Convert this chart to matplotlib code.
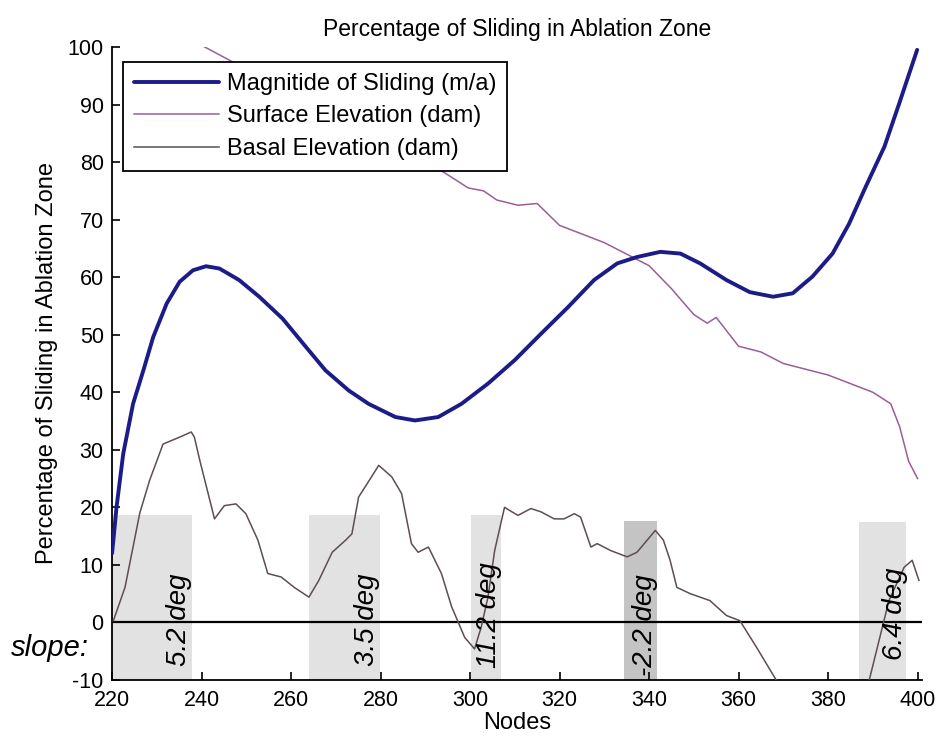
import matplotlib.pyplot as plt
import numpy as np

plt.rcParams['font.family'] = ['Liberation Sans', 'DejaVu Sans']
plt.rcParams['axes.unicode_minus'] = False

# magnitude of sliding (blue)
slide_x = [220, 220.3, 221, 222.5, 224.7, 227, 229.2, 232.2, 235.1, 238.1, 241, 244, 248.4,
           252.9, 258.1, 263.3, 267.7, 272.9, 277.3, 283.3, 287.7, 292.9, 298.1, 304, 310,
           315.9, 321.9, 327.7, 332.9, 337.3, 342.5, 347, 351.4, 357.3, 362.5, 367.7, 372.1,
           376.5, 381, 384.7, 388.4, 392.6, 395.9, 399.9]
slide_y = [12, 14.3, 20, 29.3, 38, 43.8, 49.6, 55.4, 59.2, 61.2, 61.9, 61.5, 59.5,
           56.6, 52.8, 47.9, 43.8, 40.3, 38, 35.7, 35.1, 35.7, 38, 41.5, 45.6,
           50.2, 54.8, 59.5, 62.4, 63.5, 64.4, 64.1, 62.4, 59.5, 57.4, 56.6, 57.2,
           60.1, 64.1, 69.3, 75.7, 82.7, 90.2, 99.5]

# surface elevation (magenta)
surf_x = [240.7, 260, 280, 294.4, 299.6, 303, 306, 310.7, 315, 320, 325, 330, 335, 340,
          345, 350, 353, 355, 357, 360, 365, 370, 375, 380, 385, 390, 394, 396, 398, 400]
surf_y = [100, 92, 84, 78.1, 75.5, 75, 73.4, 72.5, 72.8, 69, 67.5, 66, 64, 62,
          58, 53.5, 52, 53, 51, 48, 47, 45, 44, 43, 41.5, 40, 38, 34, 28, 25]

# basal elevation
bed_x = [220.3, 222.9, 226.2, 228.4, 231.4, 235.1, 237.7, 238.4, 239.6, 242.9, 245.1, 247.7,
         249.9, 252.6, 254.8, 257.8, 260.7, 264, 266.2, 269.2, 272.2, 273.6, 275.1, 277,
         279.6, 282.5, 284.7, 286.9, 288.4, 290.7, 293.6, 295.9, 298.8, 301, 302.5, 304,
         305.5, 307.7, 310.7, 313.6, 315.9, 318.8, 321, 323.3, 324.7, 327, 328.4, 331.4,
         335.1, 337.3, 341.4, 343.2, 344.7, 346.2, 349.2, 353.6, 357.3, 360.3, 364, 368.4,
         378, 389.2, 393.6, 397, 398.8, 400.3]
bed_y = [0.3, 6.1, 19, 24.7, 31, 32.2, 33.1, 32.2, 28.2, 18, 20.3, 20.6,
         18.9, 14.3, 8.5, 7.9, 6.1, 4.4, 7.3, 12.2, 14.3, 15.4, 21.8, 24.1,
         27.3, 25.3, 22.4, 13.7, 12.2, 13.1, 8.5, 2.7, -2.6, -4.6, -0.8, 4.4,
         12.5, 20, 18.6, 19.8, 19.2, 18, 18, 18.9, 18.3, 13.1, 13.7, 12.5,
         11.4, 12.2, 16, 14.3, 10.8, 6.1, 5, 3.8, 1.2, 0.3, -4.3, -10,
         -25, -10, 3.8, 9.6, 10.8, 7.3]

# slope sections
sec_start = [220, 264, 300.2, 334.4, 387]
sec_end = [237.8, 279.8, 307, 341.8, 397.3]
sec_top = [18.6, 18.6, 18.6, 17.7, 17.4]
sec_dark = [False, False, False, True, False]
slope_lbl = ['5.2 deg', '3.5 deg', '11.2 deg', '-2.2 deg', '6.4 deg']
slope_x = [234.9, 276.9, 304.2, 339, 394.9]
slope_y = [0.5, 0.5, 1.2, -0.5, 1.5]

fig = plt.figure(figsize=(9.43, 7.48), dpi=100)
ax = fig.add_axes([0.1188, 0.0909, 0.859, 0.8463])

for s, e, t, d in zip(sec_start, sec_end, sec_top, sec_dark):
    ax.fill_between([s, e], -10, t, color='#c4c4c4' if d else '#e2e2e2', lw=0, zorder=1)

ax.axhline(0, color='black', lw=1.6, zorder=2)

ax.plot(slide_x, slide_y, color='#1c1c88', lw=2.8, zorder=4,
        solid_capstyle='round', solid_joinstyle='round', label='Magnitide of Sliding (m/a)')
ax.plot(surf_x, surf_y, color='#9a5e9a', lw=1.1, zorder=3, label='Surface Elevation (dam)')
ax.plot(bed_x, bed_y, color='#5e4e4e', lw=1.1, zorder=3, label='Basal Elevation (dam)')

for xx, yy, lb in zip(slope_x, slope_y, slope_lbl):
    ax.text(xx, yy, lb, rotation=90, style='italic', fontsize=20,
            ha='center', va='center', zorder=5)

ax.set_xlim(220, 401)
ax.set_ylim(-10, 100)
ax.set_xticks(np.arange(220, 401, 20))
ax.set_yticks(np.arange(-10, 101, 10))
ax.tick_params(direction='in', labelsize=15.5, length=6, width=1.2)
ax.tick_params(axis='x', pad=7)
ax.tick_params(axis='y', pad=6)
ax.spines['top'].set_visible(False)
ax.spines['right'].set_visible(False)
ax.spines['left'].set_linewidth(1.3)
ax.spines['bottom'].set_linewidth(1.3)

ax.set_title('Percentage of Sliding in Ablation Zone', fontsize=16.5, pad=8)
ax.set_xlabel('Nodes', fontsize=17, labelpad=1)
ax.set_ylabel('Percentage of Sliding in Ablation Zone', fontsize=17, labelpad=7)

leg = ax.legend(loc='upper left', bbox_to_anchor=(0.0136, 0.976), borderaxespad=0,
                fontsize=17, fancybox=False, framealpha=1, edgecolor='black',
                borderpad=0.45, handlelength=3.6, handletextpad=0.35, labelspacing=0.45)
leg.get_frame().set_linewidth(1.3)
leg.set_zorder(6)

fig.text(0.012, 1 - 648 / 748, 'slope:', style='italic', fontsize=21,
         ha='left', va='center')

fig.savefig('out.png', dpi=100)
